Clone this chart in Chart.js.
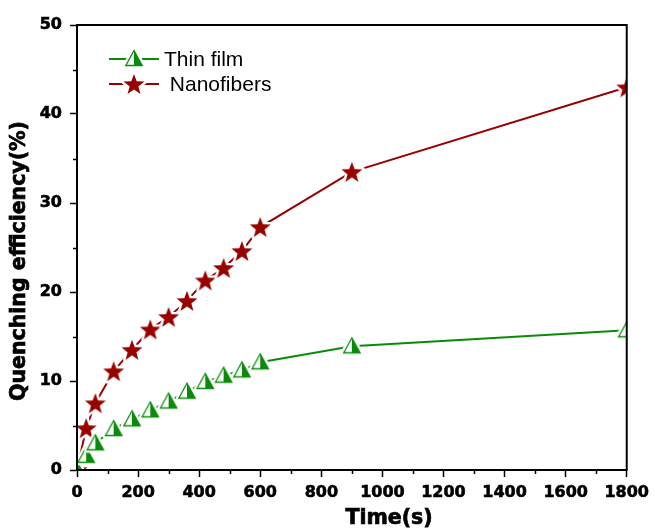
<!DOCTYPE html>
<html><head><meta charset="utf-8">
<script src="https://cdn.jsdelivr.net/npm/chart.js@4.4.1/dist/chart.umd.min.js"></script>
<style>html,body{margin:0;padding:0;background:#fff}#wrap{width:655px;height:529px}</style>
</head><body><div id="wrap"><canvas id="c" width="655" height="529"></canvas></div>
<script>
const timeSeconds = [0, 30, 60, 120, 180, 240, 300, 360, 420, 480, 540, 600, 900, 1800];
const thinFilm   = [0, 1.6, 3.0, 4.6, 5.7, 6.7, 7.7, 8.8, 9.9, 10.6, 11.2, 12.1, 13.9, 15.7];
const nanofibers = [0, 4.7, 7.5, 11.1, 13.5, 15.8, 17.2, 19.0, 21.3, 22.7, 24.6, 27.3, 33.5, 43.0];
const xTicks = [0, 200, 400, 600, 800, 1000, 1200, 1400, 1600, 1800];
const yTicks = [0, 10, 20, 30, 40, 50];
const seriesNames = ['Thin film', ' Nanofibers'];
const xTitle = 'Time(s)';
const yTitle = 'Quenching efficiency(%)';

const GREEN = '#0a8a0a', RED = '#990000';
const FONT = '"Liberation Sans", Arial, sans-serif';
const BFONT = '"DejaVu Sans", sans-serif';

function starMarker() {
  const s = 30, c = document.createElement('canvas'); c.width = s; c.height = s;
  const g = c.getContext('2d'); const cx = s/2, cy = s/2 + 1, R = 11, r = 4.6;
  g.beginPath();
  for (let i = 0; i < 10; i++) {
    const a = -Math.PI/2 + i*Math.PI/5, rad = i % 2 ? r : R;
    g.lineTo(cx + rad*Math.cos(a), cy + rad*Math.sin(a));
  }
  g.closePath();
  g.strokeStyle = '#fff'; g.lineWidth = 5; g.lineJoin = 'round'; g.stroke();
  g.fillStyle = RED; g.fill();
  return c;
}
function triMarker() {
  const s = 28, c = document.createElement('canvas'); c.width = s; c.height = s;
  const g = c.getContext('2d'); const cx = s/2, top = s/2 - 8.5, bot = s/2 + 6.5, hw = 8.2;
  const path = () => { g.beginPath(); g.moveTo(cx, top); g.lineTo(cx+hw, bot); g.lineTo(cx-hw, bot); g.closePath(); };
  path(); g.strokeStyle = '#fff'; g.lineWidth = 6; g.lineJoin = 'round'; g.stroke();
  path(); g.fillStyle = '#fff'; g.fill();
  g.beginPath(); g.moveTo(cx, top); g.lineTo(cx+hw, bot); g.lineTo(cx, bot); g.closePath(); g.fillStyle = GREEN; g.fill();
  path(); g.strokeStyle = GREEN; g.lineWidth = 1.3; g.lineJoin = 'miter'; g.stroke();
  return c;
}
const STAR = starMarker(), TRI = triMarker();

const decor = {
  id: 'decor',
  afterDraw(chart) {
    const g = chart.ctx, a = chart.chartArea, xs = chart.scales.x, ys = chart.scales.y;
    g.save();
    g.strokeStyle = '#000'; g.lineWidth = 1.5;
    for (let v = 100; v < 1800; v += 200) {
      const px = Math.round(xs.getPixelForValue(v)) + 0.5;
      g.beginPath(); g.moveTo(px, a.bottom); g.lineTo(px, a.bottom + 4); g.stroke();
    }
    for (let v = 5; v < 50; v += 10) {
      const py = Math.round(ys.getPixelForValue(v)) + 0.5;
      g.beginPath(); g.moveTo(a.left, py); g.lineTo(a.left - 4, py); g.stroke();
    }
    g.lineWidth = 2;
    g.strokeRect(a.left, a.top, a.right - a.left, a.bottom - a.top);
    // axis titles
    g.fillStyle = '#000'; g.strokeStyle = '#000'; g.lineWidth = 0.7;
    g.font = 'bold 20.5px ' + BFONT; g.textAlign = 'center'; g.textBaseline = 'middle';
    g.fillText(xTitle, 389, 519); g.strokeText(xTitle, 389, 519);
    g.save(); g.translate(20, 261); g.rotate(-Math.PI/2); g.fillText(yTitle, 0, 0); g.strokeText(yTitle, 0, 0); g.restore();
    // legend
    const items = [[TRI, GREEN, 59], [STAR, RED, 84]];
    chart.data.datasets.forEach((ds, i) => {
      const [img, col, y] = items[i];
      g.strokeStyle = col; g.lineWidth = 2;
      g.beginPath(); g.moveTo(109, y); g.lineTo(159, y); g.stroke();
      g.drawImage(img, 134 - img.width/2, y - img.height/2);
      g.fillStyle = '#000'; g.font = '21px ' + FONT; g.textBaseline = 'middle'; g.textAlign = 'left';
      g.fillText(ds.label, 164, y + 1);
    });
    g.restore();
  }
};

new Chart(document.getElementById('c'), {
  type: 'line',
  data: {
    datasets: [
      { label: seriesNames[0], data: timeSeconds.map((t, i) => ({x: t, y: thinFilm[i]})),
        borderColor: GREEN, borderWidth: 2, pointStyle: TRI, pointRadius: 8, clip: 0, tension: 0 },
      { label: seriesNames[1], data: timeSeconds.map((t, i) => ({x: t, y: nanofibers[i]})),
        borderColor: RED, borderWidth: 2, pointStyle: STAR, pointRadius: 10, clip: 0, tension: 0 }
    ]
  },
  options: {
    responsive: false, animation: false,
    layout: { padding: { top: 25, right: 28, left: 0, bottom: 0 } },
    plugins: { legend: { display: false }, tooltip: { enabled: false } },
    scales: {
      x: {
        type: 'linear', min: 0, max: 1800,
        afterBuildTicks: s => { s.ticks = xTicks.map(v => ({value: v})); },
        afterFit: s => { s.height = 59; },
        grid: { drawOnChartArea: false, tickLength: 7, tickColor: '#000', tickWidth: 1.5 },
        border: { display: true, color: '#000', width: 2 },
        ticks: { color: '#000', font: { family: BFONT, size: 16, weight: 'bold' }, padding: 6, maxRotation: 0,
                 textStrokeColor: '#000', textStrokeWidth: 0.6, callback: v => String(v) },
        title: { display: false }
      },
      y: {
        type: 'linear', min: 0, max: 50,
        afterBuildTicks: s => { s.ticks = yTicks.map(v => ({value: v})); },
        afterFit: s => { s.width = 77; },
        grid: { drawOnChartArea: false, tickLength: 7, tickColor: '#000', tickWidth: 1.5 },
        border: { display: true, color: '#000', width: 2 },
        ticks: { color: '#000', font: { family: BFONT, size: 16, weight: 'bold' }, padding: 8,
                 textStrokeColor: '#000', textStrokeWidth: 0.6, callback: v => String(v) },
        title: { display: false }
      }
    }
  },
  plugins: [decor]
});
</script></body></html>
